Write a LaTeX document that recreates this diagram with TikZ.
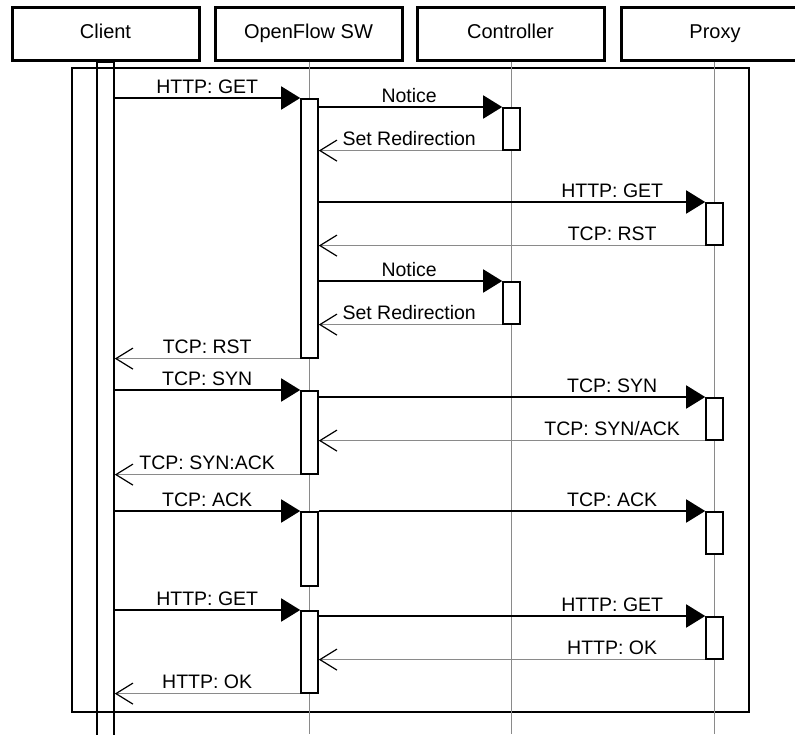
\documentclass[tikz,border=0pt]{standalone}
\usepackage{fontspec}
\setmainfont{Liberation Sans}
\usetikzlibrary{arrows.meta}
\definecolor{SQInk}{HTML}{000000}
\definecolor{SQGray}{HTML}{8A8A8A}
\tikzset{
  lifehead/.style={draw=SQInk,line width=3pt,minimum width=187pt,minimum height=53pt,
                   inner sep=0pt,text height=14pt,text depth=4pt,
                   font=\fontsize{20}{22}\selectfont},
  life/.style={SQGray,line width=1pt},
  actbar/.style={draw=SQInk,line width=1.6pt,fill=white,minimum width=17pt,
                 inner sep=0pt,anchor=north},
  sdframe/.style={draw=SQInk,line width=1.8pt},
  call/.style={-{Triangle[length=19pt,width=23pt]},SQInk,line width=1.8pt},
  reply/.style={-{Straight Barb[length=17pt,width=21pt,color=SQInk]},SQGray,line width=1.2pt},
  fwdlbl/.style={pos=1,anchor=base,xshift=-93pt,yshift=5pt,inner sep=0pt,
                 text=SQInk,font=\fontsize{19.5}{22}\selectfont},
  retlbl/.style={fwdlbl,pos=0},
}
\begin{document}
\begin{tikzpicture}[x=1pt,y=-1pt]
  \clip (0,0) rectangle (795,734);
  \draw[sdframe] (72,68) rectangle (749,712);
  % lifelines
  \node[lifehead] (client) at (105.5,33.5) {Client};
  \node[lifehead] (sw) at (308.5,33.5) {OpenFlow SW};
  \node[lifehead] (ctl) at (510.5,33.5) {Controller};
  \node[lifehead] (proxy) at (715,33.5) {Proxy};
  \foreach \n/\x in {sw/309.5,ctl/511.5,proxy/714.5}
    \draw[life] (\x,61.5) -- (\x,734);
  % activations
  \node[actbar,fill=none,minimum height=690pt] (clbar) at (105.5,61.5) {};
  \node[actbar,minimum height=259pt] (swA) at (309.5,98) {};
  \node[actbar,minimum height=83pt] (swB) at (309.5,390) {};
  \node[actbar,minimum height=74pt] (swC) at (309.5,511) {};
  \node[actbar,minimum height=82pt] (swD) at (309.5,610) {};
  \node[actbar,minimum height=42pt] (ctA) at (511.5,107) {};
  \node[actbar,minimum height=42pt] (ctB) at (511.5,281) {};
  \node[actbar,minimum height=42pt] (pxA) at (714.5,202) {};
  \node[actbar,minimum height=42pt] (pxB) at (714.5,397) {};
  \node[actbar,minimum height=42pt] (pxC) at (714.5,511) {};
  \node[actbar,minimum height=42pt] (pxD) at (714.5,616) {};
  % messages
  \draw[call] (clbar.east |- swA.north) -- (swA.north west) node[fwdlbl] {HTTP: GET};
  \draw[call] (swA.east |- ctA.north) -- (ctA.north west) node[fwdlbl] {Notice};
  \draw[reply] (ctA.south west) -- (swA.east |- ctA.south) node[retlbl] {Set Redirection};
  \draw[call] (swA.east |- pxA.north) -- (pxA.north west) node[fwdlbl] {HTTP: GET};
  \draw[reply] (pxA.south west) -- (swA.east |- pxA.south) node[retlbl] {TCP: RST};
  \draw[call] (swA.east |- ctB.north) -- (ctB.north west) node[fwdlbl] {Notice};
  \draw[reply] (ctB.south west) -- (swA.east |- ctB.south) node[retlbl] {Set Redirection};
  \draw[reply] (swA.south west) -- (clbar.east |- swA.south) node[retlbl] {TCP: RST};
  \draw[call] (clbar.east |- swB.north) -- (swB.north west) node[fwdlbl] {TCP: SYN};
  \draw[call] (swB.east |- pxB.north) -- (pxB.north west) node[fwdlbl] {TCP: SYN};
  \draw[reply] (pxB.south west) -- (swB.east |- pxB.south) node[retlbl] {TCP: SYN/ACK};
  \draw[reply] (swB.south west) -- (clbar.east |- swB.south) node[retlbl] {TCP: SYN:ACK};
  \draw[call] (clbar.east |- swC.north) -- (swC.north west) node[fwdlbl] {TCP: ACK};
  \draw[call] (swC.north east) -- (pxC.north west) node[fwdlbl] {TCP: ACK};
  \draw[call] (clbar.east |- swD.north) -- (swD.north west) node[fwdlbl] {HTTP: GET};
  \draw[call] (swD.east |- pxD.north) -- (pxD.north west) node[fwdlbl] {HTTP: GET};
  \draw[reply] (pxD.south west) -- (swD.east |- pxD.south) node[retlbl] {HTTP: OK};
  \draw[reply] (swD.south west) -- (clbar.east |- swD.south) node[retlbl] {HTTP: OK};
\end{tikzpicture}
\end{document}
